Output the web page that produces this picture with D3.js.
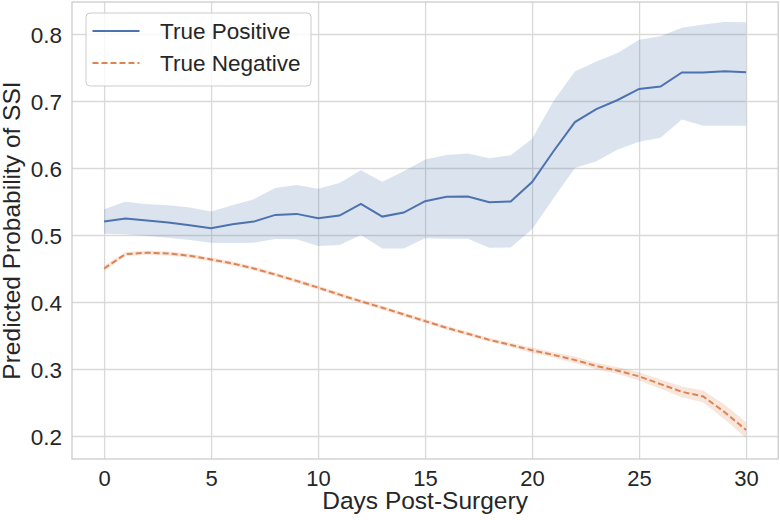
<!DOCTYPE html>
<html>
<head>
<meta charset="utf-8">
<script src="https://cdn.jsdelivr.net/npm/d3@7"></script>
<style>
  html, body { margin: 0; padding: 0; background: #fff; }
  svg { display: block; }
  text { font-family: "Liberation Sans", Arial, sans-serif; fill: #262626; }
</style>
</head>
<body>
<svg id="chart" width="780" height="520"></svg>
<script>
// ---- Data ----
const days = [0,1,2,3,4,5,6,7,8,9,10,11,12,13,14,15,16,17,18,19,20,21,22,23,24,25,26,27,28,29,30];

const tpMean  = [0.520,0.5245,0.5215,0.5185,0.5145,0.510,0.516,0.520,0.530,0.5315,0.525,0.529,0.5465,0.5275,0.5335,0.5505,0.557,0.5575,0.549,0.550,0.579,0.625,0.6685,0.688,0.7015,0.718,0.7215,0.7425,0.7425,0.7445,0.743];
const tpUpper = [0.5385,0.5495,0.546,0.5445,0.541,0.535,0.5445,0.5535,0.570,0.5745,0.569,0.5775,0.5965,0.5795,0.595,0.6125,0.6195,0.6215,0.6145,0.619,0.6435,0.700,0.744,0.759,0.7715,0.7915,0.7965,0.8095,0.814,0.818,0.8175];
const tpLower = [0.502,0.501,0.4985,0.496,0.4925,0.4885,0.488,0.4885,0.494,0.4935,0.4835,0.485,0.500,0.480,0.480,0.495,0.4945,0.4945,0.481,0.4815,0.5085,0.555,0.600,0.610,0.6275,0.639,0.645,0.6725,0.663,0.663,0.663];

const tnMean  = [0.450,0.4715,0.4735,0.4725,0.469,0.4635,0.4575,0.450,0.441,0.4315,0.4215,0.411,0.401,0.3915,0.3815,0.3715,0.3615,0.3525,0.3435,0.336,0.328,0.321,0.3135,0.3045,0.2975,0.289,0.2775,0.266,0.259,0.2355,0.209];
const tnUpper = [0.454,0.4745,0.4765,0.4755,0.472,0.4665,0.4605,0.453,0.444,0.4345,0.4245,0.414,0.404,0.3945,0.3845,0.3745,0.3645,0.3555,0.3465,0.339,0.332,0.325,0.3185,0.3095,0.3025,0.295,0.2845,0.274,0.268,0.2465,0.221];
const tnLower = [0.446,0.4685,0.4705,0.4695,0.466,0.4605,0.4545,0.447,0.438,0.4285,0.4185,0.408,0.398,0.3885,0.3785,0.3685,0.3585,0.3495,0.3405,0.333,0.324,0.317,0.3085,0.2995,0.2925,0.283,0.2705,0.258,0.250,0.2245,0.197];

const xTicks = [0,5,10,15,20,25,30];
const yTicks = [0.2,0.3,0.4,0.5,0.6,0.7,0.8];
const seriesNames = ["True Positive","True Negative"];
const xLabel = "Days Post-Surgery";
const yLabel = "Predicted Probability of SSI";

// ---- Layout ----
const svg = d3.select("#chart");
const L = 72, R = 778.2, T = 2, B = 459;
const x = d3.scaleLinear().domain([-1.5, 31.5]).range([L, R]);
const y = d3.scaleLinear().domain([0.16567, 0.84776]).range([B, T]);

const blue = "#4c72b0", orange = "#dd8452", gridC = "#d9d9d9";

// grid
svg.append("g").attr("transform", `translate(0,${B})`)
  .call(d3.axisBottom(x).tickValues(xTicks).tickSize(-(B - T)).tickFormat(""))
  .call(g => g.select(".domain").remove())
  .call(g => g.selectAll("line").attr("stroke", gridC).attr("stroke-width", 1.3));
svg.append("g").attr("transform", `translate(${L},0)`)
  .call(d3.axisLeft(y).tickValues(yTicks).tickSize(-(R - L)).tickFormat(""))
  .call(g => g.select(".domain").remove())
  .call(g => g.selectAll("line").attr("stroke", gridC).attr("stroke-width", 1.3));

// bands
const tp = days.map((d, i) => ({d, m: tpMean[i], lo: tpLower[i], hi: tpUpper[i]}));
const tn = days.map((d, i) => ({d, m: tnMean[i], lo: tnLower[i], hi: tnUpper[i]}));
const area = d3.area().x(p => x(p.d)).y0(p => y(p.lo)).y1(p => y(p.hi));
const line = d3.line().x(p => x(p.d)).y(p => y(p.m));

svg.append("path").datum(tp).attr("d", area).attr("fill", blue).attr("fill-opacity", 0.2);
svg.append("path").datum(tn).attr("d", area).attr("fill", orange).attr("fill-opacity", 0.2);
svg.append("path").datum(tp).attr("d", line).attr("fill", "none").attr("stroke", blue).attr("stroke-width", 2);
svg.append("path").datum(tn).attr("d", line).attr("fill", "none").attr("stroke", orange)
  .attr("stroke-width", 2).attr("stroke-dasharray", "6,3");

// frame
svg.append("rect").attr("x", L).attr("y", T).attr("width", R - L).attr("height", B - T)
  .attr("fill", "none").attr("stroke", "#cccccc").attr("stroke-width", 1.3);

// tick labels
svg.append("g").attr("transform", `translate(0,${B})`)
  .call(d3.axisBottom(x).tickValues(xTicks).tickSize(0).tickPadding(0).tickFormat(d3.format("d")))
  .call(g => g.select(".domain").remove())
  .call(g => g.selectAll("text").attr("y", 26.5).attr("dy", null)
    .style("font-size", "22px").style("font-family", "Liberation Sans, Arial, sans-serif").attr("fill", "#262626"));
svg.append("g").attr("transform", `translate(${L},0)`)
  .call(d3.axisLeft(y).tickValues(yTicks).tickSize(0).tickPadding(0).tickFormat(d3.format(".1f")))
  .call(g => g.select(".domain").remove())
  .call(g => g.selectAll("text").attr("x", -10).attr("dy", "0.36em")
    .style("font-size", "22.5px").style("font-family", "Liberation Sans, Arial, sans-serif").attr("fill", "#262626"));

// axis labels
svg.append("text").attr("x", (L + R) / 2).attr("y", 509).attr("text-anchor", "middle")
  .style("font-size", "24.5px").text(xLabel);
svg.append("text").attr("transform", `translate(19.5,${(T + B) / 2}) rotate(-90)`)
  .attr("text-anchor", "middle").style("font-size", "24.5px").text(yLabel);

// legend
const lg = svg.append("g");
lg.append("rect").attr("x", 86).attr("y", 13).attr("width", 225).attr("height", 73).attr("rx", 4)
  .attr("fill", "#fff").attr("fill-opacity", 0.8).attr("stroke", "#cccccc").attr("stroke-width", 1);
const legendItems = [
  {name: seriesNames[0], color: blue, dash: null, yy: 31},
  {name: seriesNames[1], color: orange, dash: "6,3", yy: 63}
];
legendItems.forEach(it => {
  lg.append("line").attr("x1", 92.5).attr("x2", 139.5).attr("y1", it.yy).attr("y2", it.yy)
    .attr("stroke", it.color).attr("stroke-width", 2).attr("stroke-dasharray", it.dash);
  lg.append("text").attr("x", 160).attr("y", it.yy + 7.5).style("font-size", "22.5px").text(it.name);
});
</script>
</body>
</html>
